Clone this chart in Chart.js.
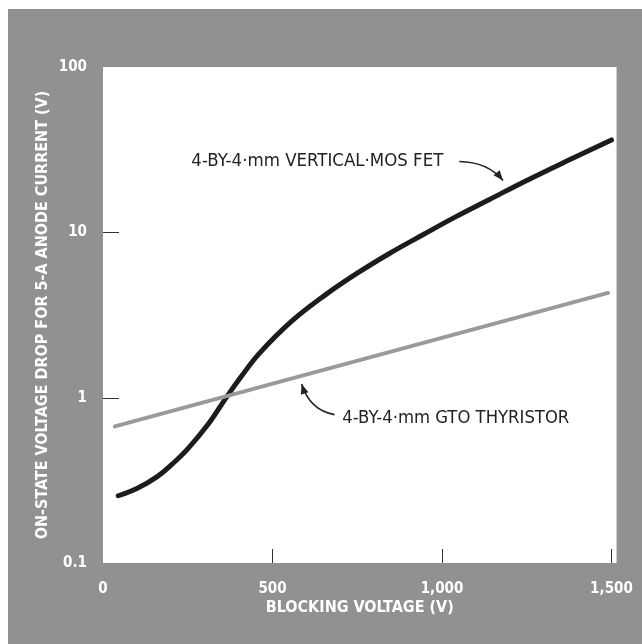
<!DOCTYPE html>
<html>
<head>
<meta charset="utf-8">
<script src="https://cdn.jsdelivr.net/npm/chart.js@4/dist/chart.umd.min.js"></script>
<style>
  html, body { margin: 0; padding: 0; background: #fff; }
  #wrap { position: absolute; left: 8px; top: 9px; }
</style>
</head>
<body>
<div id="wrap"><canvas id="chart" width="634" height="635"></canvas></div>
<script>
// blocking voltage (V) vs on-state drop (V)
var mosVolts = [45, 100, 160, 205, 250, 310, 360, 410, 460, 555, 655, 750, 845, 945, 1040, 1140, 1250, 1365, 1500];
var mosDrop = [0.255, 0.282, 0.333, 0.398, 0.49, 0.69, 0.977, 1.36, 1.84, 2.88, 4.17, 5.66, 7.45, 9.7, 12.4, 15.8, 20.6, 26.8, 36.2];

var gtoVolts = [35, 1490];
var gtoDrop = [0.67, 4.3];

var xTicks = [0, 500, 1000, 1500];
var xTickLabels = [ '0', '500', '1,000', '1,500' ];
var yTicks = [0.1, 1, 10, 100];
var yTickLabels = [ '0.1', '1', '10', '100' ];

var mosLabel = '4-BY-4\u00b7mm VERTICAL\u00b7MOS FET';
var gtoLabel = '4-BY-4\u00b7mm GTO THYRISTOR';

var condensed = '"Liberation Sans Narrow", "DejaVu Sans Condensed", "Roboto Condensed", sans-serif';
var panelGray = '#919191';

var toPoints = function ( xs, ys ) {
    return xs.map( function ( x, i ) {
        return { x: x, y: ys[ i ] };
    } );
};

var background = {
    id: 'background',
    beforeDraw: function ( chart ) {
        var ctx = chart.ctx;
        var a = chart.chartArea;
        ctx.save();
        ctx.fillStyle = panelGray;
        ctx.fillRect( 0, 0, chart.width, chart.height );
        ctx.fillStyle = '#fff';
        ctx.fillRect( a.left, a.top, a.right - a.left, a.bottom - a.top );
        ctx.restore();
    }
};

// short tick marks pointing into the plot
var innerTicks = {
    id: 'innerTicks',
    afterDatasetsDraw: function ( chart ) {
        var ctx = chart.ctx;
        var a = chart.chartArea;
        var x = chart.scales.x;
        var y = chart.scales.y;
        ctx.save();
        ctx.strokeStyle = '#333';
        ctx.lineWidth = 1;
        ctx.beginPath();
        xTicks.forEach( function ( v ) {
            var px = Math.round( x.getPixelForValue( v ) ) + 0.5;
            if ( px > a.left + 2 && px < a.right - 2 ) {
                ctx.moveTo( px, a.bottom );
                ctx.lineTo( px, a.bottom - 14 );
            }
        } );
        yTicks.forEach( function ( v ) {
            var py = Math.round( y.getPixelForValue( v ) ) + 0.5;
            if ( py > a.top + 2 && py < a.bottom - 2 ) {
                ctx.moveTo( a.left, py );
                ctx.lineTo( a.left + 16, py );
            }
        } );
        ctx.stroke();
        ctx.restore();
    }
};

var drawArrow = function ( ctx, x0, y0, cx, cy, x1, y1 ) {
    ctx.beginPath();
    ctx.moveTo( x0, y0 );
    ctx.quadraticCurveTo( cx, cy, x1, y1 );
    ctx.stroke();
    var ang = Math.atan2( y1 - cy, x1 - cx );
    var len = 10, wid = 4;
    ctx.beginPath();
    ctx.moveTo( x1, y1 );
    ctx.lineTo( x1 - len * Math.cos( ang ) + wid * Math.sin( ang ), y1 - len * Math.sin( ang ) - wid * Math.cos( ang ) );
    ctx.lineTo( x1 - len * Math.cos( ang ) - wid * Math.sin( ang ), y1 - len * Math.sin( ang ) + wid * Math.cos( ang ) );
    ctx.closePath();
    ctx.fill();
};

var fitText = function ( ctx, text, x, y, width, align ) {
    var w = ctx.measureText( text ).width;
    var k = width / w;
    ctx.save();
    ctx.translate( x, y );
    ctx.scale( k, 1 );
    ctx.textAlign = align;
    ctx.fillText( text, 0, 0 );
    ctx.restore();
};

// curve labels, placed in data units
var labels = {
    id: 'labels',
    afterDatasetsDraw: function ( chart ) {
        var ctx = chart.ctx;
        var x = chart.scales.x;
        var y = chart.scales.y;
        var px = function ( v ) { return x.getPixelForValue( v ); };
        var py = function ( v ) { return y.getPixelForValue( v ); };
        ctx.save();
        ctx.fillStyle = '#222';
        ctx.strokeStyle = '#222';
        ctx.lineWidth = 1.6;
        ctx.font = '17px ' + condensed;
        ctx.textBaseline = 'middle';

        fitText( ctx, mosLabel, px( 1004 ), py( 26.8 ), 252, 'right' );
        drawArrow( ctx, px( 1051 ), py( 26.8 ), px( 1135 ), py( 26.6 ), px( 1180 ), py( 20.6 ) );

        fitText( ctx, gtoLabel, px( 706 ), py( 0.746 ), 227, 'left' );
        drawArrow( ctx, px( 683 ), py( 0.79 ), px( 610 ), py( 0.84 ), px( 586 ), py( 1.21 ) );
        ctx.restore();
    }
};

new Chart( document.getElementById( 'chart' ), {
    type: 'line',
    data: {
        datasets: [
            {
                label: 'GTO thyristor',
                data: toPoints( gtoVolts, gtoDrop ),
                borderColor: '#9a9a9a',
                borderWidth: 4,
                pointRadius: 0,
                borderCapStyle: 'round'
            },
            {
                label: 'Vertical MOS FET',
                data: toPoints( mosVolts, mosDrop ),
                borderColor: '#1c1c1c',
                borderWidth: 5,
                pointRadius: 0,
                tension: 0.4,
                borderCapStyle: 'round'
            }
        ]
    },
    options: {
        responsive: false,
        animation: false,
        layout: { padding: { top: 58, right: 20, left: 0, bottom: 0 } },
        plugins: {
            legend: { display: false },
            tooltip: { enabled: false }
        },
        scales: {
            x: {
                type: 'linear',
                min: 0,
                max: 1515,
                grid: { display: false },
                border: { display: false },
                afterBuildTicks: function ( scale ) {
                    scale.ticks = xTicks.map( function ( v ) { return { value: v }; } );
                },
                afterFit: function ( scale ) { scale.height = 81; },
                ticks: {
                    autoSkip: false,
                    maxRotation: 0,
                    padding: 9,
                    color: '#fff',
                    font: { family: condensed, size: 15, weight: 'bold' },
                    callback: function ( v ) {
                        return xTickLabels[ xTicks.indexOf( v ) ];
                    }
                },
                title: {
                    display: true,
                    text: 'BLOCKING VOLTAGE (V)',
                    color: '#fff',
                    font: { family: condensed, size: 16, weight: 'bold' },
                    padding: { top: 0, bottom: 27 }
                }
            },
            y: {
                type: 'logarithmic',
                min: 0.1,
                max: 100,
                grid: { display: false },
                border: { display: false },
                afterBuildTicks: function ( scale ) {
                    scale.ticks = yTicks.map( function ( v ) { return { value: v }; } );
                },
                afterFit: function ( scale ) { scale.width = 95; },
                ticks: {
                    autoSkip: false,
                    padding: 8,
                    color: '#fff',
                    font: { family: condensed, size: 15, weight: 'bold' },
                    callback: function ( v ) {
                        return yTickLabels[ yTicks.indexOf( v ) ];
                    }
                },
                title: {
                    display: true,
                    text: 'ON-STATE VOLTAGE DROP FOR 5-A ANODE CURRENT (V)',
                    color: '#fff',
                    font: { family: condensed, size: 16, weight: 'bold' },
                    padding: { top: 25, bottom: 0 }
                }
            }
        }
    },
    plugins: [ background, innerTicks, labels ]
} );
</script>
</body>
</html>
